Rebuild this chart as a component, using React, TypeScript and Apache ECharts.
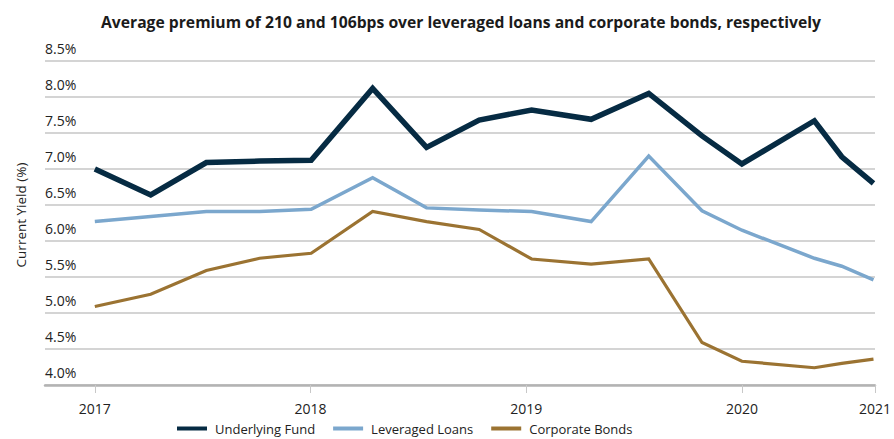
import React, { useEffect, useRef } from "react";
import * as echarts from "echarts";

const titleText =
  "Average premium of 210 and 106bps over leveraged loans and corporate bonds, respectively";
const yAxisName = "Current Yield (%)";

// x positions as decimal years
const dates = [
  2017.0, 2017.259, 2017.517, 2017.764, 2018.003, 2018.288, 2018.538, 2018.782,
  2019.025, 2019.301, 2019.568, 2019.815, 2020.0, 2020.336, 2020.463, 2020.61,
];
const underlyingFund = [
  7.0, 6.64, 7.09, 7.11, 7.12, 8.12, 7.3, 7.68, 7.82, 7.69, 8.05, 7.46, 7.07, 7.67, 7.17, 6.8,
];
const leveragedLoans = [
  6.27, 6.34, 6.41, 6.41, 6.44, 6.88, 6.46, 6.43, 6.41, 6.27, 7.18, 6.42, 6.15, 5.76, 5.65, 5.46,
];
const corporateBonds = [
  5.09, 5.26, 5.59, 5.76, 5.83, 6.41, 6.27, 6.16, 5.75, 5.68, 5.75, 4.59, 4.33, 4.24, 4.3, 4.36,
];
const seriesNames = ["Underlying Fund", "Leveraged Loans", "Corporate Bonds"];
const colors = ["#062b43", "#7ba7cd", "#9b7332"];

const xMin = 2016.769;
const xMax = 2020.617;
const xTickValues = [2017, 2018, 2019, 2020, xMax];
const xTickLabels = ["2017", "2018", "2019", "2020", "2021"];

const yMin = 4.0;
const yMax = 8.5;
const yStep = 0.5;

const FONT = "'Open Sans', sans-serif";

export default function App() {
  const ref = useRef<HTMLDivElement>(null);
  useEffect(() => {
    if (!ref.current) return;
    const chart = echarts.init(ref.current, null, { renderer: "svg" });
    const pair = (vals: number[]) => vals.map((v, i) => [dates[i], v]);
    const widths = [5.5, 3.5, 3.2];
    chart.setOption({
      animation: false,
      backgroundColor: "#ffffff",
      title: {
        text: titleText,
        left: 96,
        top: 9,
        textStyle: {
          fontFamily: FONT,
          fontWeight: "bold",
          fontSize: 15.7,
          color: "#1b1b1b",
        },
      },
      legend: {
        left: 172,
        top: 417,
        itemWidth: 30,
        itemHeight: 4,
        itemGap: 18,
        icon: "rect",
        data: seriesNames,
        textStyle: {
          fontFamily: FONT,
          fontSize: 13,
          color: "#222",
          padding: [0, 0, 0, 3],
        },
      },
      grid: { left: 45, right: 17, top: 61, bottom: 54, containLabel: false },
      xAxis: {
        type: "value",
        min: xMin,
        max: xMax,
        splitLine: { show: false },
        axisLine: { show: true, lineStyle: { color: "#b3b3b3", width: 2.5 } },
        axisTick: {
          show: true,
          customValues: xTickValues,
          length: 8,
          lineStyle: { color: "#c8c8c8", width: 1 },
        },
        axisLabel: {
          customValues: xTickValues,
          fontFamily: FONT,
          fontSize: 14,
          color: "#222",
          margin: 16,
          formatter: (v: number) => {
            const idx = xTickValues.findIndex((t) => Math.abs(t - v) < 1e-6);
            return idx >= 0 ? xTickLabels[idx] : "";
          },
        },
      },
      yAxis: {
        type: "value",
        min: yMin,
        max: yMax,
        interval: yStep,
        name: yAxisName,
        nameLocation: "middle",
        nameGap: 17,
        nameTextStyle: {
          fontFamily: FONT,
          fontSize: 13.5,
          color: "#222",
          padding: [0, 0, 0, 16],
        },
        axisLine: { show: false },
        axisTick: { show: false },
        splitLine: { show: true, lineStyle: { color: "#c6c6c6", width: 1.5 } },
        axisLabel: {
          inside: true,
          margin: 0,
          verticalAlign: "bottom",
          padding: [0, 0, 6, 0],
          fontFamily: FONT,
          fontSize: 14,
          color: "#222",
          formatter: (v: number) => v.toFixed(1) + "%",
        },
      },
      series: [underlyingFund, leveragedLoans, corporateBonds].map((vals, i) => ({
        name: seriesNames[i],
        type: "line",
        data: pair(vals),
        symbol: "none",
        color: colors[i],
        lineStyle: { width: widths[i], color: colors[i], join: "miter" },
        z: 10 - i,
      })),
    });
    return () => chart.dispose();
  }, []);
  return (
    <div
      ref={ref}
      style={{ position: "fixed", left: 0, top: 0, width: 894, height: 439 }}
    />
  );
}
